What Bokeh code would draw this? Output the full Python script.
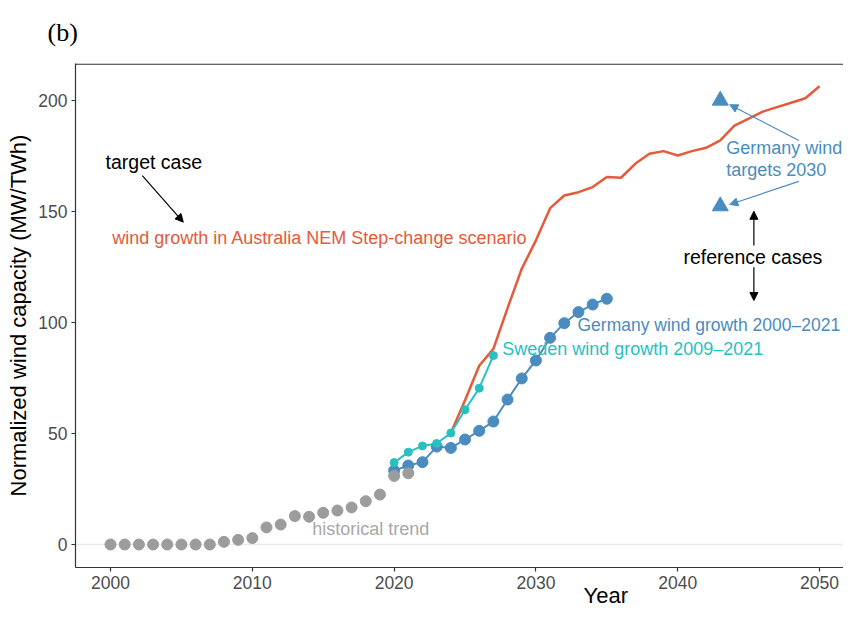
from bokeh.plotting import figure
from bokeh.models import Range1d, Label, Arrow, NormalHead, Span, FixedTicker, Title
from bokeh.embed import file_html
from bokeh.resources import INLINE

# ---------------- data ----------------
hist_years = list(range(2000, 2022))
hist_vals = [0, 0, 0, 0, 0, 0, 0, 0, 1.2, 2.1, 2.9, 7.7, 9.0, 12.8, 12.5, 14.3,
             15.3, 16.7, 19.5, 22.5, 30.9, 32.1]

germany_years = list(range(2020, 2036))
germany_vals = [33.3, 35.6, 37.1, 44.1, 43.5, 47.3, 51.2, 55.4, 65.3, 74.8, 82.9,
                93.1, 99.7, 104.7, 108.1, 110.7]

sweden_years = list(range(2020, 2028))
sweden_vals = [36.9, 41.6, 44.4, 45.5, 50.2, 60.7, 70.4, 85.1]

aus_years = list(range(2024, 2051))
aus_vals = [50.2, 65.0, 80.5, 88.1, 106.5, 124.2, 137.0, 151.5, 157.2, 158.7, 161.0,
            165.5, 165.2, 171.5, 176.0, 177.2, 175.2, 177.2, 178.7, 182.0, 188.7,
            191.8, 195.0, 197.0, 199.0, 201.0, 206.4]

target_years = [2043, 2043]
target_vals = [200.0, 152.4]

x_ticks = [2000, 2010, 2020, 2030, 2040, 2050]
y_ticks = [0, 50, 100, 150, 200]

# ---------------- style ----------------
RED = "#E35B3B"
BLUE = "#4A8CC0"
TEAL = "#29C0C0"
GRAY = "#9C9C9C"
GRAY_TXT = "#A8A8A8"
AXIS = "#333333"
TICKTXT = "#4D4D4D"
FONT = "Liberation Sans"

Y0, Y1 = -10.36, 216.67
p = figure(width=843, height=609,
           x_range=Range1d(1997.53, 2051.69), y_range=Range1d(Y0, Y1),
           output_backend="svg", toolbar_location=None,
           min_border_left=75, min_border_right=0, min_border_top=63, min_border_bottom=42)
p.outline_line_color = None
p.grid.visible = False
p.background_fill_color = "white"
p.border_fill_color = "white"

# panel label "(b)"
p.title.text = "(b)"
p.title.text_font = "Liberation Serif"
p.title.text_font_size = "26px"
p.title.text_font_style = "normal"
p.title.text_color = "black"
p.title.align = "left"
p.title.vertical_align = "top"
p.title.offset = -28
p.title.standoff = 30

for ax in (p.xaxis[0], p.yaxis[0]):
    ax.axis_line_color = AXIS
    ax.axis_line_width = 1.2
    ax.major_tick_line_color = AXIS
    ax.major_tick_line_width = 1.2
    ax.major_tick_out = 4
    ax.major_tick_in = 0
    ax.minor_tick_line_color = None
    ax.major_label_text_font = FONT
    ax.major_label_text_font_size = "17.5px"
    ax.major_label_text_color = TICKTXT
    ax.major_label_standoff = 4

p.xaxis.ticker = FixedTicker(ticks=x_ticks)
p.yaxis.ticker = FixedTicker(ticks=y_ticks)
p.yaxis.axis_label = "Normalized wind capacity (MW/TWh)"
p.yaxis.axis_label_text_font = FONT
p.yaxis.axis_label_text_font_size = "22px"
p.yaxis.axis_label_text_font_style = "normal"
p.yaxis.axis_label_text_color = "black"
p.yaxis.axis_label_standoff = 4

# x-axis title (the reference is cropped, so it sits right of the visible centre)
p.add_layout(Title(text="Year", text_font=FONT, text_font_size="22px",
                   text_font_style="normal", text_color="black",
                   align="left", vertical_align="top", offset=508, standoff=-18), "below")

# top border of the panel and the light zero line
p.add_layout(Span(location=Y1 - 0.3, dimension="width", line_color=AXIS, line_width=1.2))
p.add_layout(Span(location=0, dimension="width", line_color="#EBEBEB",
                  line_width=1.5, level="underlay"))

# ---------------- glyphs ----------------
p.line(aus_years, aus_vals, line_color=RED, line_width=2.5)
p.line(germany_years, germany_vals, line_color=BLUE, line_width=2)
p.scatter(germany_years, germany_vals, size=11, color=BLUE)
p.line(sweden_years, sweden_vals, line_color=TEAL, line_width=2)
p.scatter(sweden_years, sweden_vals, size=8, color=TEAL)
p.scatter(hist_years, hist_vals, size=11, color=GRAY)
p.scatter(target_years, target_vals, marker="triangle", size=16, color=BLUE)

# ---------------- annotations ----------------
def lab(x, y, text, color, size, align="left", font=FONT):
    p.add_layout(Label(x=x, y=y, text=text, text_color=color, text_font=font,
                       text_font_size=size, text_align=align, text_baseline="middle"))

lab(1999.65, 172.2, "target case", "black", "19.5px")
lab(2000.12, 138.2, "wind growth in Australia NEM Step-change scenario", RED, "18px")
lab(2045.3, 129.4, "reference cases", "black", "19.5px", align="center")
lab(2043.42, 178.7, "Germany wind", BLUE, "18px")
lab(2043.42, 168.8, "targets 2030", BLUE, "18px")
lab(2032.93, 98.8, "Germany wind growth 2000\u20132021", BLUE, "17.5px")
lab(2027.62, 88.2, "Sweden wind growth 2009\u20132021", TEAL, "18px")
lab(2014.22, 7.1, "historical trend", GRAY_TXT, "18px")

def arrow(x0, y0, x1, y1, color):
    p.add_layout(Arrow(x_start=x0, y_start=y0, x_end=x1, y_end=y1,
                       line_color=color, line_width=1.2,
                       end=NormalHead(size=8, fill_color=color, line_color=color)))

arrow(2002.24, 166.2, 2005.13, 145.2, "black")
arrow(2045.37, 134.7, 2045.37, 150.1, "black")
arrow(2045.37, 124.9, 2045.37, 109.9, "black")
arrow(2048.54, 182.0, 2043.67, 198.1, BLUE)
arrow(2048.54, 163.6, 2043.67, 153.15, BLUE)

open("out.html", "w").write(file_html(p, INLINE))
